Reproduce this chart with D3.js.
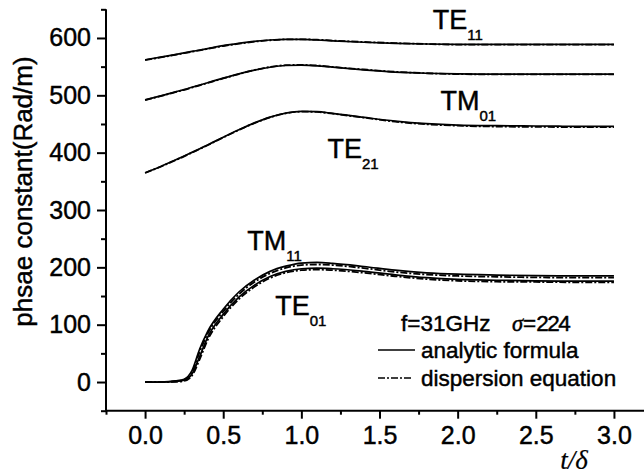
<!DOCTYPE html>
<html>
<head>
<meta charset="utf-8">
<script src="https://cdn.jsdelivr.net/npm/d3@7/dist/d3.min.js"></script>
<style>
  html, body { margin: 0; padding: 0; background: #fff; }
  svg { display: block; }
  text { fill: #000; stroke: #000; stroke-width: 0.45px; }
</style>
</head>
<body>
<svg id="chart" width="644" height="474"></svg>
<script>
// Normalised thickness t/δ sampled along every curve
const tValues = [0, 0.1, 0.2, 0.25, 0.3, 0.35, 0.4, 0.5, 0.6, 0.7, 0.8, 0.9, 1.0, 1.1, 1.2, 1.4, 1.6, 1.8, 2.0, 2.25, 2.5, 2.75, 3.0];

// Phase constant (Rad/m) per mode: analytic formula and dispersion equation
const te11Analytic   = [562, 566.5, 571.5, 574, 576.5, 579, 581.5, 586.5, 590.5, 594, 596.5, 597.5, 597.5, 596.5, 595, 592.5, 590.5, 589.5, 589, 589, 589, 589, 589];
const te11Dispersion = [561.5, 566, 571, 573.5, 576, 578.5, 581, 586, 590, 593.5, 596, 597.5, 597.5, 597, 595.5, 593, 591, 589.5, 588.5, 588.5, 588.5, 588.5, 588.5];
const tm01Analytic   = [492, 499, 506.5, 510, 514, 518, 522, 530, 537.5, 544, 549, 552, 552.5, 551.5, 549, 544.5, 540.5, 538.5, 537.5, 537, 537, 537, 537];
const tm01Dispersion = [491.5, 498.5, 506, 509.5, 513.5, 517.5, 521.5, 529.5, 537, 544, 549.5, 552.5, 553, 552, 549.5, 545, 541, 538.5, 537, 536.5, 536.5, 536.5, 536.5];
const te21Analytic   = [365, 376, 388, 394, 400.5, 407, 413.5, 427, 440, 452, 462, 469, 472, 471.5, 468.5, 461.5, 455, 450.5, 448, 447, 446.5, 446, 446];
const te21Dispersion = [364.5, 375.5, 387.5, 393.5, 400, 406.5, 413, 426.5, 439.5, 451.5, 461.5, 468.5, 471.5, 471, 468, 461, 454, 449.5, 447, 445.5, 445, 444.5, 444.5];
const tm11Analytic   = [0, 0, 2, 5, 20, 58, 88, 127, 157, 178, 193, 202, 207.5, 208.5, 207, 201.5, 195, 190.5, 188, 186.5, 185.5, 185, 185];
const tm11Dispersion = [0, 0, 1.5, 4, 17, 53, 84, 123, 153, 174.5, 189.5, 199, 204, 205, 204, 198.5, 192, 187.5, 185, 183.5, 182.5, 182, 182];
const te01Analytic   = [0, 0, 1, 3, 14, 45, 78, 118, 148, 169, 184, 193, 197.5, 198.5, 197.5, 193, 187, 182, 179, 177.5, 176.5, 176, 176];
const te01Dispersion = [0, 0, 0.5, 2, 11, 40, 73, 114, 144.5, 166, 181.5, 190.5, 195, 196, 195, 190.5, 184.5, 179.5, 176.5, 175, 174.5, 174, 174];

const analyticSeries   = [te11Analytic, tm01Analytic, te21Analytic, tm11Analytic, te01Analytic];
const dispersionSeries = [te11Dispersion, tm01Dispersion, te21Dispersion, tm11Dispersion, te01Dispersion];

// Mode names with the (t/δ, value) where each name sits
const modeNames = ["TE", "TM", "TE", "TM", "TE"];
const modeIndices = ["11", "01", "21", "11", "01"];
const modeLabelT = [1.84, 1.89, 1.167, 0.654, 0.833];
const modeLabelV = [616, 474, 391, 230, 117];

// Axis ticks
const xMajorTicks = [0, 0.5, 1.0, 1.5, 2.0, 2.5, 3.0];
const xMinorTicks = [-0.25, 0.25, 0.75, 1.25, 1.75, 2.25, 2.75];
const yMajorTicks = [0, 100, 200, 300, 400, 500, 600];
const yMinorTicks = [-50, 50, 150, 250, 350, 450, 550, 650];

const svg = d3.select("#chart");
const sans = "'Liberation Sans', Arial, sans-serif";
const serif = "'Liberation Serif', 'Times New Roman', serif";

const x = d3.scaleLinear().domain([-0.25, 3.2]).range([106, 645.2]);
const y = d3.scaleLinear().domain([-50, 650]).range([410.7, 9.3]);

// Left axis: major ticks with labels, minor ticks without
const yAxisG = svg.append("g").attr("transform", `translate(${x(-0.25)},0)`);
yAxisG.call(d3.axisLeft(y).tickValues(yMajorTicks).tickSize(9).tickPadding(6).tickFormat(d3.format("d")));
const yMinorG = svg.append("g").attr("transform", `translate(${x(-0.25)},0)`);
yMinorG.call(d3.axisLeft(y).tickValues(yMinorTicks).tickSize(5).tickFormat(""));

// Bottom axis
const xAxisG = svg.append("g").attr("transform", `translate(0,${y(-50)})`);
xAxisG.call(d3.axisBottom(x).tickValues(xMajorTicks).tickSize(8).tickPadding(8).tickFormat(d3.format(".1f")));
const xMinorG = svg.append("g").attr("transform", `translate(0,${y(-50)})`);
xMinorG.call(d3.axisBottom(x).tickValues(xMinorTicks).tickSize(4).tickFormat(""));

[yAxisG, yMinorG, xAxisG, xMinorG].forEach(g => {
  g.selectAll(".domain").attr("stroke", "#000").attr("stroke-width", 2);
  g.selectAll(".tick line").attr("stroke", "#000").attr("stroke-width", 2);
  g.selectAll(".tick text").attr("font-family", sans).attr("font-size", 25).attr("fill", "#000");
});
// plain axis lines without d3's end caps
xAxisG.select(".domain").attr("d", `M${x(-0.25)},0H${x(3.2)}`);
xMinorG.select(".domain").remove();
yMinorG.select(".domain").remove();
yAxisG.select(".domain").attr("d", `M0,${y(650)}V${y(-50)}`);

// Curves
const line = d3.line()
  .x((d, i) => x(tValues[i]))
  .y(d => y(d))
  .curve(d3.curveMonotoneX);

svg.append("g").selectAll("path.analytic")
  .data(analyticSeries).join("path")
  .attr("class", "analytic")
  .attr("d", line)
  .attr("fill", "none").attr("stroke", "#000").attr("stroke-width", 1.7);

svg.append("g").selectAll("path.dispersion")
  .data(dispersionSeries).join("path")
  .attr("class", "dispersion")
  .attr("d", line)
  .attr("fill", "none").attr("stroke", "#000").attr("stroke-width", 1.8)
  .attr("stroke-dasharray", "7,2,2,2");

// Mode labels with subscripts
const labels = svg.append("g");
modeNames.forEach((name, i) => {
  const t = labels.append("text")
    .attr("x", x(modeLabelT[i])).attr("y", y(modeLabelV[i]))
    .attr("font-family", sans).attr("font-size", 27);
  t.append("tspan").text(name);
  t.append("tspan").attr("font-size", 15).attr("dy", 11).text(modeIndices[i]);
});

// Axis titles
svg.append("text")
  .attr("transform", "translate(32,191.5) rotate(-90)")
  .attr("text-anchor", "middle")
  .attr("font-family", sans).attr("font-size", 26)
  .text("phsae constant(Rad/m)");

const xTitle = svg.append("text")
  .attr("x", 574).attr("y", 469)
  .attr("text-anchor", "middle")
  .attr("font-family", serif).attr("font-style", "italic").attr("font-size", 27)
  .style("stroke-width", "0.2px");
xTitle.append("tspan").text("t");
xTitle.append("tspan").text("/");
xTitle.append("tspan").text("δ");

// Legend
const legend = svg.append("g");
const cond = legend.append("text").attr("x", 401).attr("y", 331)
  .attr("font-family", sans).attr("font-size", 22.5);
cond.append("tspan").text("f=31GHz");
cond.append("tspan").attr("x", 512).attr("font-family", serif).attr("font-style", "italic").text("σ");
cond.append("tspan").text("=");
cond.append("tspan").attr("letter-spacing", -1.5).text("224");

legend.append("line").attr("x1", 378).attr("x2", 415).attr("y1", 350).attr("y2", 350)
  .attr("stroke", "#000").attr("stroke-width", 1.6);
legend.append("text").attr("x", 421).attr("y", 358)
  .attr("font-family", sans).attr("font-size", 22.5).text("analytic formula");

legend.append("line").attr("x1", 378).attr("x2", 411).attr("y1", 378).attr("y2", 378)
  .attr("stroke", "#000").attr("stroke-width", 1.6).attr("stroke-dasharray", "7,2,2,2");
legend.append("text").attr("x", 421).attr("y", 386)
  .attr("font-family", sans).attr("font-size", 22.5).text("dispersion equation");
</script>
</body>
</html>
